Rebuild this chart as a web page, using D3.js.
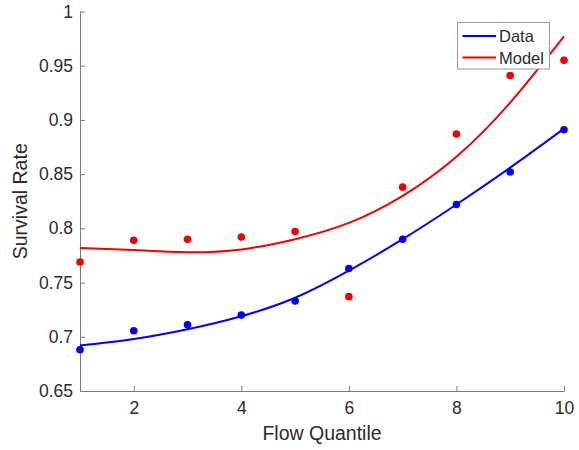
<!DOCTYPE html>
<html>
<head>
<meta charset="utf-8">
<script src="https://cdn.jsdelivr.net/npm/d3@7/dist/d3.min.js"></script>
<style>
  html, body { margin: 0; padding: 0; background: #fff; }
  svg { display: block; font-family: "Liberation Sans", Arial, Helvetica, sans-serif; }
</style>
</head>
<body>
<svg id="chart" width="579" height="450"></svg>
<script>
// Survival rate per flow quantile: observed points and fitted curves
const quantiles = [1, 2, 3, 4, 5, 6, 7, 8, 9, 10];
const dataRate  = [0.688, 0.7055, 0.711, 0.720, 0.733, 0.763, 0.790, 0.822, 0.852, 0.891];
const modelRate = [0.769, 0.789, 0.790, 0.792, 0.797, 0.737, 0.838, 0.887, 0.941, 0.955];
const dataFit   = [0.692, 0.698, 0.707, 0.719, 0.736, 0.761, 0.790, 0.822, 0.856, 0.892];
const modelFit  = [0.782, 0.780, 0.778, 0.7806, 0.790, 0.805, 0.830, 0.866, 0.916, 0.977];
const xTicks = [2, 4, 6, 8, 10];
const yTicks = [0.65, 0.7, 0.75, 0.8, 0.85, 0.9, 0.95, 1];
const seriesNames = ["Data", "Model"];
const seriesColors = ["#0000f0", "#f00000"];

const svg = d3.select("#chart");
const plot = { left: 80, right: 564, top: 11.5, bottom: 391 };

const x = d3.scaleLinear().domain([1, 10]).range([plot.left, plot.right]);
const y = d3.scaleLinear().domain([0.65, 1]).range([plot.bottom, plot.top]);

const axisColor = "#7a7a7a";
const textColor = "#2b2b2b";

// Axes (ticks point inward)
const gx = svg.append("g")
  .attr("transform", `translate(0,${plot.bottom})`)
  .call(d3.axisBottom(x).tickValues(xTicks).tickSizeInner(-5).tickSizeOuter(0).tickPadding(11)
    .tickFormat(d => String(d)));
const gy = svg.append("g")
  .attr("transform", `translate(${plot.left},0)`)
  .call(d3.axisLeft(y).tickValues(yTicks).tickSizeInner(-5).tickSizeOuter(0).tickPadding(7)
    .tickFormat(d => String(d)));

[gx, gy].forEach(g => {
  g.select(".domain").attr("stroke", axisColor).attr("stroke-width", 1);
  g.selectAll(".tick line").attr("stroke", axisColor).attr("stroke-width", 1);
  g.selectAll(".tick text").attr("fill", textColor).style("font-size", "17.5px")
    .style("font-family", "'Liberation Sans', Arial, Helvetica, sans-serif");
});
gx.selectAll(".tick text").attr("dy", "0.71em");

// Axis titles
svg.append("text")
  .attr("x", (plot.left + plot.right) / 2)
  .attr("y", 440)
  .attr("text-anchor", "middle")
  .attr("fill", textColor)
  .style("font-size", "19.5px")
  .text("Flow Quantile");

svg.append("text")
  .attr("transform", `translate(27,${(plot.top + plot.bottom) / 2}) rotate(-90)`)
  .attr("text-anchor", "middle")
  .attr("fill", textColor)
  .style("font-size", "19.5px")
  .text("Survival Rate");

// Fitted curves
const line = d3.line()
  .x((d, i) => x(quantiles[i]))
  .y(d => y(d))
  .curve(d3.curveNatural);

const fits = [dataFit, modelFit];
const points = [dataRate, modelRate];

fits.forEach((vals, k) => {
  svg.append("path")
    .datum(vals)
    .attr("d", line)
    .attr("fill", "none")
    .attr("stroke", seriesColors[k])
    .attr("stroke-width", 2);
});

// Observed points
points.forEach((vals, k) => {
  svg.append("g")
    .selectAll("circle")
    .data(vals)
    .join("circle")
    .attr("cx", (d, i) => x(quantiles[i]))
    .attr("cy", d => y(d))
    .attr("r", 3.8)
    .attr("fill", seriesColors[k]);
});

// Legend
const legend = svg.append("g").attr("transform", "translate(457.5,22.5)");
legend.append("rect")
  .attr("width", 92)
  .attr("height", 46.5)
  .attr("fill", "#fff")
  .attr("stroke", "#9a9a9a")
  .attr("stroke-width", 1);
seriesNames.forEach((name, k) => {
  const cy = 13.5 + k * 21.5;
  legend.append("line")
    .attr("x1", 5).attr("x2", 38.5)
    .attr("y1", cy).attr("y2", cy)
    .attr("stroke", seriesColors[k])
    .attr("stroke-width", 2);
  legend.append("text")
    .attr("x", 41.5)
    .attr("y", cy + 6)
    .attr("fill", textColor)
    .style("font-size", "16.5px")
    .text(name);
});
</script>
</body>
</html>
